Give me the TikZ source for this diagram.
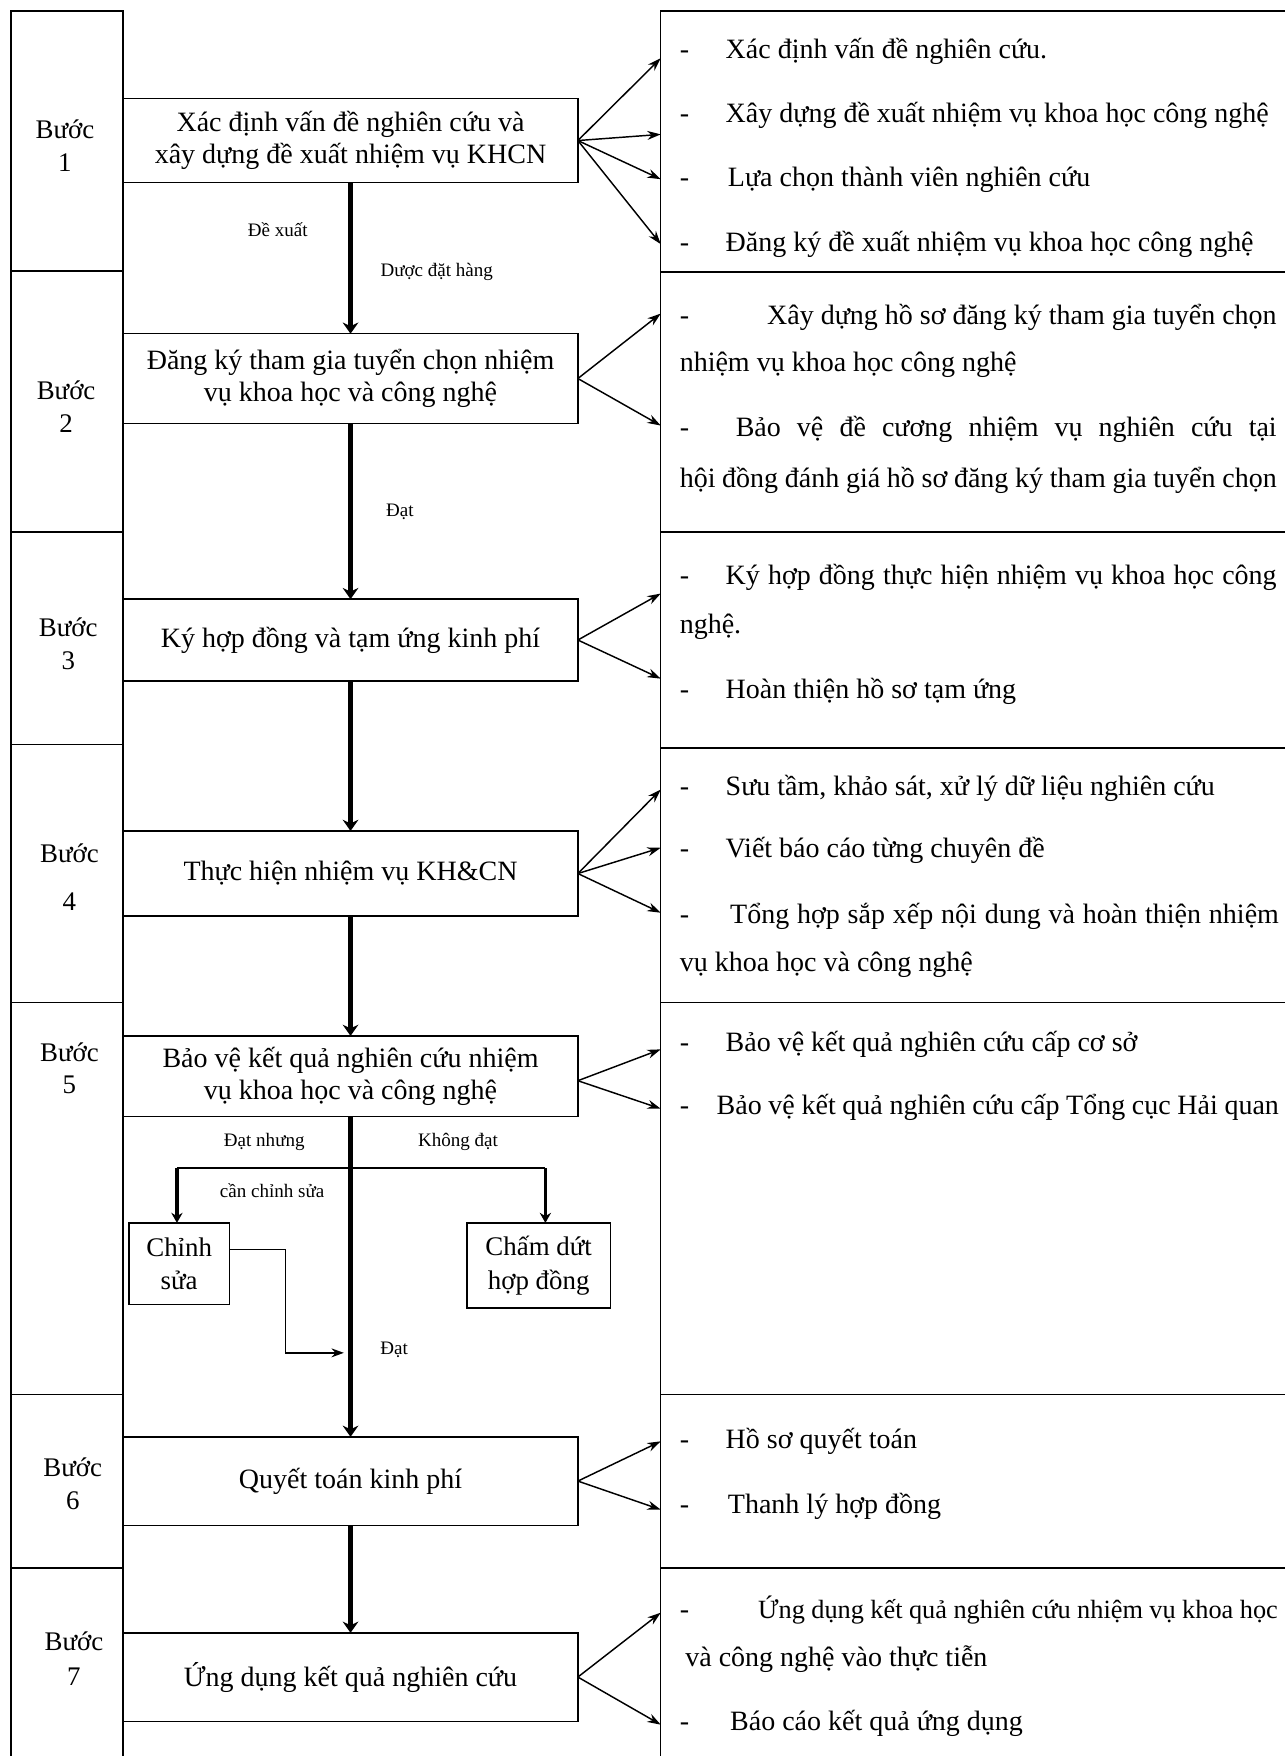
\documentclass[tikz,border=0pt]{standalone}
\usepackage{fontspec}
\setmainfont{Liberation Serif}
\usetikzlibrary{arrows.meta}
\begin{document}
\begin{tikzpicture}[x=1pt,y=-1pt,
  every node/.style={inner sep=0pt, outer sep=0pt},
  mainbox/.style={draw, line width=1.3pt, minimum width=406pt, align=center, font=\fontsize{25}{29}\selectfont},
  cell/.style={draw, line width=1.3pt},
  steplabel/.style={align=center, font=\fontsize{24}{30}\selectfont},
  rtext/.style={anchor=west, font=\fontsize{25}{30}\selectfont, text height=17pt, text depth=6pt},
  small/.style={font=\fontsize{17}{20}\selectfont},
  fan/.style={line width=1.3pt, -{Stealth[length=12pt,width=8pt]}},
  trunk/.style={line width=4.5pt, -{Stealth[length=10pt,width=14pt]}},
  branch/.style={line width=3pt, -{Stealth[length=9pt,width=10pt]}},
  thin/.style={line width=1.3pt, -{Stealth[length=11pt,width=8pt]}},
]
\fill[white] (0,0) rectangle (1147,1568);
\useasboundingbox (0,0) rectangle (1147,1568);

% left step column
\node[cell, minimum width=100pt, minimum height=232pt] (c1) at (60,126) {};
\node[cell, minimum width=100pt, minimum height=233pt] (c2) at (60,358.5) {};
\node[cell, minimum width=100pt, minimum height=190pt] (c3) at (60,570) {};
\node[cell, minimum width=100pt, minimum height=230pt] (c4) at (60,780) {};
\node[cell, minimum width=100pt, minimum height=350pt] (c5) at (60,1070) {};
\node[cell, minimum width=100pt, minimum height=155pt] (c6) at (60,1322.5) {};
\node[cell, minimum width=100pt, minimum height=180pt] (c7) at (60,1490) {};

\node[steplabel] (l1) at (58,130) {Bước\\1};
\node[steplabel] (l2) at (59,363) {Bước\\2};
\node[steplabel] (l3) at (61,575) {Bước\\3};
\node[steplabel] (l4) at (62,783.5) {Bước\\[13pt]4};
\node[steplabel, font=\fontsize{24}{28}\selectfont] (l5) at (62,954) {Bước\\5};
\node[steplabel] (l6) at (65,1325) {Bước\\6};
\node[steplabel, font=\fontsize{24}{32}\selectfont] (l7) at (66,1481) {Bước\\7};

% right column
\node[cell, minimum width=610pt, minimum height=233pt] (r1) at (895,126.5) {};
\node[cell, minimum width=610pt, minimum height=232pt] (r2) at (895,359) {};
\node[cell, minimum width=610pt, minimum height=193pt] (r3) at (895,571.5) {};
\node[cell, minimum width=610pt, minimum height=227pt] (r4) at (895,781.5) {};
\node[cell, minimum width=610pt, minimum height=350pt] (r5) at (895,1070) {};
\node[cell, minimum width=610pt, minimum height=155pt] (r6) at (895,1322.5) {};
\node[cell, minimum width=610pt, minimum height=180pt] (r7) at (895,1490) {};

% main boxes
\node[mainbox, minimum height=75pt] (b1) at (313,125.5) {Xác định vấn đề nghiên cứu và\\xây dựng đề xuất nhiệm vụ KHCN};
\node[mainbox, minimum height=80pt] (b2) at (313,338) {Đăng ký tham gia tuyển chọn nhiệm\\vụ khoa học và công nghệ};
\node[mainbox, minimum height=73pt] (b3) at (313,571.5) {Ký hợp đồng và tạm ứng kinh phí};
\node[mainbox, minimum height=76pt] (b4) at (313,780) {Thực hiện nhiệm vụ KH\&CN};
\node[mainbox, minimum height=72pt] (b5) at (313,961) {Bảo vệ kết quả nghiên cứu nhiệm\\vụ khoa học và công nghệ};
\node[mainbox, minimum height=79pt] (b6) at (313,1322.5) {Quyết toán kinh phí};
\node[mainbox, minimum height=79pt] (b7) at (313,1497.5) {Ứng dụng kết quả nghiên cứu};

% step 5 side boxes
\node[draw, line width=1.3pt, minimum width=90pt, minimum height=73pt, align=center, font=\fontsize{24}{30}\selectfont] (cs) at (160,1128.5) {Chỉnh\\sửa};
\node[draw, line width=1.3pt, minimum width=128pt, minimum height=76pt, align=center, font=\fontsize{24}{30}\selectfont] (cd) at (481,1130) {Chấm dứt\\hợp đồng};

% trunk arrows
\draw[trunk] (b1.south) -- (b2.north);
\draw[trunk] (b2.south) -- (b3.north);
\draw[trunk] (b3.south) -- (b4.north);
\draw[trunk] (b4.south) -- (b5.north);
\draw[trunk] (b5.south) -- (b6.north);
\draw[trunk] (b6.south) -- (b7.north);

% trunk labels
\node[small] (la) at (248,205) {Đề xuất};
\node[small] (lb) at (390,243) {Dược đặt hàng};
\node[small] (lc) at (357,457) {Đạt};
\node[small] (ld) at (236,1020) {Đạt nhưng};
\node[small] (le) at (243,1063) {cần chỉnh sửa};
\node[small] (lf) at (409,1020) {Không đạt};
\node[small] (lg) at (352,1205) {Đạt};

% branch at step 5
\coordinate (hl) at (158,1043);
\coordinate (hr) at (487,1043);
\draw[line width=2pt] (hl) -- (hr);
\draw[branch] (hl) -- (hl |- cs.north);
\draw[branch] (hr) -- (hr |- cd.north);
\coordinate (lp) at (255,1208);
\coordinate (lt) at (307,1208);
\draw[thin] ([yshift=13pt]cs.east) -| (lp) -- (lt);

% fans
\coordinate (f11) at (590,52);
\coordinate (f12) at (590,120);
\coordinate (f13) at (590,160);
\coordinate (f14) at (590,218);
\foreach \t in {f11,f12,f13,f14} \draw[fan] (b1.east) -- (\t);
\coordinate (f21) at (590,280);
\coordinate (f22) at (590,380);
\foreach \t in {f21,f22} \draw[fan] (b2.east) -- (\t);
\coordinate (f31) at (590,530);
\coordinate (f32) at (590,606);
\foreach \t in {f31,f32} \draw[fan] (b3.east) -- (\t);
\coordinate (f41) at (590,705);
\coordinate (f42) at (590,757);
\coordinate (f43) at (590,815);
\foreach \t in {f41,f42,f43} \draw[fan] (b4.east) -- (\t);
\coordinate (f51) at (590,937);
\coordinate (f52) at (590,990);
\foreach \t in {f51,f52} \draw[fan] ([yshift=-4pt]b5.east) -- (\t);
\coordinate (f61) at (590,1287);
\coordinate (f62) at (590,1348);
\foreach \t in {f61,f62} \draw[fan] (b6.east) -- (\t);
\coordinate (f71) at (590,1440);
\coordinate (f72) at (590,1540);
\foreach \t in {f71,f72} \draw[fan] (b7.east) -- (\t);

% right column texts
\node[rtext] (d11) at (607,47) {-};
\node[rtext] (t11) at (648,47) {Xác định vấn đề nghiên cứu.};
\node[rtext] (d12) at (607,104) {-};
\node[rtext] (t12) at (648,104) {Xây dựng đề xuất nhiệm vụ khoa học công nghệ};
\node[rtext] (d13) at (607,161) {-};
\node[rtext] (t13) at (650,161) {Lựa chọn thành viên nghiên cứu};
\node[rtext] (d14) at (607,219) {-};
\node[rtext] (t14) at (648,219) {Đăng ký đề xuất nhiệm vụ khoa học công nghệ};

\node[rtext] (d21) at (607,284) {-};
\node[rtext] (t21) at (685,284) {\makebox[455pt][s]{Xây dựng hồ sơ đăng ký tham gia tuyển chọn}};
\node[rtext] (t22) at (607,326) {nhiệm vụ khoa học công nghệ};
\node[rtext] (d23) at (607,384) {-};
\node[rtext] (t23) at (657,384) {\makebox[483pt][s]{Bảo vệ đề cương nhiệm vụ nghiên cứu tại}};
\node[rtext] (t24) at (607,430) {\makebox[533pt][s]{hội đồng đánh giá hồ sơ đăng ký tham gia tuyển chọn}};

\node[rtext] (d31) at (607,516) {-};
\node[rtext] (t31) at (648,516) {\makebox[492pt][s]{Ký hợp đồng thực hiện nhiệm vụ khoa học công}};
\node[rtext] (t32) at (607,560) {nghệ.};
\node[rtext] (d33) at (607,618) {-};
\node[rtext] (t33) at (648,618) {Hoàn thiện hồ sơ tạm ứng};

\node[rtext] (d41) at (607,705) {-};
\node[rtext] (t41) at (648,705) {Sưu tầm, khảo sát, xử lý dữ liệu nghiên cứu};
\node[rtext] (d42) at (607,760) {-};
\node[rtext] (t42) at (648,760) {Viết báo cáo từng chuyên đề};
\node[rtext] (d43) at (607,819) {-};
\node[rtext] (t43) at (652,819) {\makebox[490pt][s]{Tổng hợp sắp xếp nội dung và hoàn thiện nhiệm}};
\node[rtext] (t44) at (607,862) {vụ khoa học và công nghệ};

\node[rtext] (d51) at (607,933) {-};
\node[rtext] (t51) at (648,933) {Bảo vệ kết quả nghiên cứu cấp cơ sở};
\node[rtext] (d52) at (607,990) {-};
\node[rtext] (t52) at (640,990) {\makebox[502pt][s]{Bảo vệ kết quả nghiên cứu cấp Tổng cục Hải quan}};

\node[rtext] (d61) at (607,1288) {-};
\node[rtext] (t61) at (648,1288) {Hồ sơ quyết toán};
\node[rtext] (d62) at (607,1346) {-};
\node[rtext] (t62) at (650,1346) {Thanh lý hợp đồng};

\node[rtext] (d71) at (607,1440) {-};
\node[rtext, font=\fontsize{23.5}{30}\selectfont] (t71) at (677,1440) {\makebox[464pt][s]{Ứng dụng kết quả nghiên cứu nhiệm vụ khoa học}};
\node[rtext] (t72) at (612,1483) {và công nghệ vào thực tiễn};
\node[rtext] (d73) at (607,1540) {-};
\node[rtext] (t73) at (652,1540) {Báo cáo kết quả ứng dụng};
\end{tikzpicture}
\end{document}
